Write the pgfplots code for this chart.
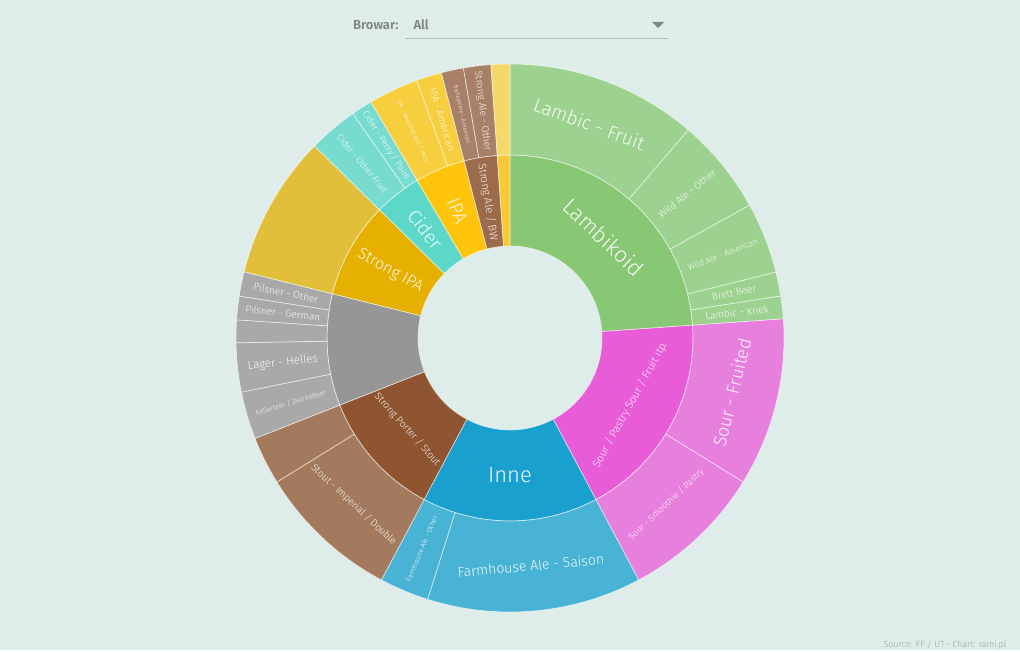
\documentclass[border=0pt]{standalone}
\usepackage{fontspec}
\setmainfont{Fira Sans}[UprightFont={* Light}, BoldFont={* SemiBold}]
\usepackage{pgfplots}
\pgfplotsset{compat=1.18}
\definecolor{bg}{HTML}{DFEDEA}
\definecolor{hdr}{HTML}{7F8583}
% inner ring colours
\definecolor{cLam}{HTML}{88C874}
\definecolor{cSour}{HTML}{E85CD8}
\definecolor{cInne}{HTML}{1AA0CF}
\definecolor{cPort}{HTML}{8E5530}
\definecolor{cLag}{HTML}{969696}
\definecolor{cSIPA}{HTML}{E6B000}
\definecolor{cCid}{HTML}{5DD8C8}
\definecolor{cIPA}{HTML}{FFC40C}
\definecolor{cSAle}{HTML}{9B6B4C}
\definecolor{cOth}{HTML}{F9C935}
% outer ring colours
\definecolor{oLam}{HTML}{9DD18F}
\definecolor{oSour}{HTML}{E77FDD}
\definecolor{oInne}{HTML}{49B3D6}
\definecolor{oPort}{HTML}{A47A5E}
\definecolor{oLag}{HTML}{A8A9A8}
\definecolor{oSIPA}{HTML}{E2BF3A}
\definecolor{oCid}{HTML}{78DBCF}
\definecolor{oIPA}{HTML}{F7CE3E}
\definecolor{oSAle}{HTML}{A88067}
\definecolor{oOth}{HTML}{F5D86A}
% #1 start angle (clockwise from top), #2 end angle, #3 inner r, #4 outer r,
% #5 colour, #6 label, #7 font size, #8 orientation offset (0 radial, -90 tangential)
\newcommand{\segimpl}[8]{%
  \pgfmathsetmacro{\aA}{90-#1}%
  \pgfmathsetmacro{\aB}{90-#2}%
  \pgfmathsetmacro{\aM}{90-(#1+#2)/2}%
  \pgfmathsetmacro{\rM}{(#3+#4)/2}%
  \pgfmathsetmacro{\rot}{mod(\aM+#8+810,180)-90}%
  \begin{scope}[shift={(axis cs:510,312)}]
  \fill[#5, draw=white, draw opacity=0.6, line width=0.7bp]
    (\aA:#4bp) arc[start angle=\aA, end angle=\aB, radius=#4bp]
    -- (\aB:#3bp) arc[start angle=\aB, end angle=\aA, radius=#3bp] -- cycle;
  \node[text=white, text opacity=0.92, rotate=\rot, inner sep=0pt,
        font=\fontsize{#7bp}{#7bp}\selectfont] at (\aM:\rM bp) {#6};
  \end{scope}}
\newcommand{\seg}[8]{\pgfplotsextra{\segimpl{#1}{#2}{#3}{#4}{#5}{#6}{#7}{#8}}}
\begin{document}
\begin{tikzpicture}
\begin{axis}[x=1bp, y=1bp, xmin=0, xmax=1020, ymin=0, ymax=650,
  scale only axis, hide axis, clip=false]
\pgfplotsextra{\fill[bg] (axis cs:0,0) rectangle (axis cs:1020,650);}
% ---- inner ring (r 92 -> 183)
\seg{0}{86}{92}{183}{cLam}{Lambikoid}{22}{-90}
\seg{86}{152}{92}{183}{cSour}{Sour / Pastry Sour / Fruit itp.}{11}{-90}
\seg{152}{208}{92}{183}{cInne}{Inne}{22}{-90}
\seg{208}{248.5}{92}{183}{cPort}{Strong Porter / Stout}{10}{-90}
\seg{248.5}{284}{92}{183}{cLag}{}{10}{0}
\seg{284}{314.5}{92}{183}{cSIPA}{Strong IPA}{16}{0}
\seg{314.5}{329.5}{92}{183}{cCid}{Cider}{19}{0}
\seg{329.5}{345.5}{92}{183}{cIPA}{IPA}{19}{0}
\seg{345.5}{356}{92}{183}{cSAle}{Strong Ale / BW}{11}{0}
\seg{356}{360}{92}{183}{cOth}{}{10}{0}
% ---- outer ring (r 183 -> 274)
\seg{0}{40.6}{183}{274}{oLam}{Lambic - Fruit}{19}{-90}
\seg{40.6}{61}{183}{274}{oLam}{Wild Ale - Other}{10}{0}
\seg{61}{76.1}{183}{274}{oLam}{Wild Ale - American}{8.5}{0}
\seg{76.1}{81.2}{183}{274}{oLam}{Brett Beer}{10}{0}
\seg{81.2}{86}{183}{274}{oLam}{Lambic - Kriek}{10}{0}
\seg{86}{121.7}{183}{274}{oSour}{Sour - Fruited}{18}{-90}
\seg{121.7}{152}{183}{274}{oSour}{Sour - Smoothie / Pastry}{9}{-90}
\seg{152}{197.5}{183}{274}{oInne}{Farmhouse Ale - Saison}{14}{-90}
\seg{197.5}{208}{183}{274}{oInne}{Farmhouse Ale - Other}{7}{0}
\seg{208}{238.3}{183}{274}{oPort}{Stout - Imperial / Double}{10}{-90}
\seg{238.3}{248.5}{183}{274}{oPort}{}{10}{0}
\seg{248.5}{258.6}{183}{274}{oLag}{Kellerbier / Zwickelbier}{7}{0}
\seg{258.6}{269}{183}{274}{oLag}{Lager - Helles}{11.5}{0}
\seg{269}{273.8}{183}{274}{oLag}{}{10}{0}
\seg{273.8}{278.8}{183}{274}{oLag}{Pilsner - German}{10}{0}
\seg{278.8}{284}{183}{274}{oLag}{Pilsner - Other}{10}{0}
\seg{284}{314.5}{183}{274}{oSIPA}{}{10}{0}
\seg{314.5}{325}{183}{274}{oCid}{Cider - Other Fruit}{9}{0}
\seg{325}{329.5}{183}{274}{oCid}{Cider - Perry / Poiré}{9}{0}
\seg{329.5}{340.1}{183}{274}{oIPA}{IPA - New England / Hazy}{6}{0}
\seg{340.1}{345.5}{183}{274}{oIPA}{IPA - American}{10}{0}
\seg{345.5}{350.2}{183}{274}{oSAle}{Barleywine - American}{6}{0}
\seg{350.2}{356}{183}{274}{oSAle}{Strong Ale - Other}{10}{0}
\seg{356}{360}{183}{274}{oOth}{}{10}{0}
% ---- header and source
\pgfplotsextra{
\node[anchor=east, text=hdr, font=\fontsize{13bp}{13bp}\selectfont\bfseries] at (axis cs:402,625) {Browar:};
\node[anchor=west, text=hdr, font=\fontsize{13bp}{13bp}\selectfont\bfseries] at (axis cs:410,625) {All};
\draw[color=hdr!45!bg, line width=0.8bp] (axis cs:405,612) -- (axis cs:668,612);
\fill[hdr] (axis cs:652,628) -- (axis cs:664,628) -- (axis cs:658,622) -- cycle;
\node[anchor=east, text=hdr!70!bg, font=\fontsize{9bp}{9bp}\selectfont] at (axis cs:1010,5) {Source: FF / UT • Chart: rami.pl};
}
\end{axis}
\end{tikzpicture}
\end{document}
